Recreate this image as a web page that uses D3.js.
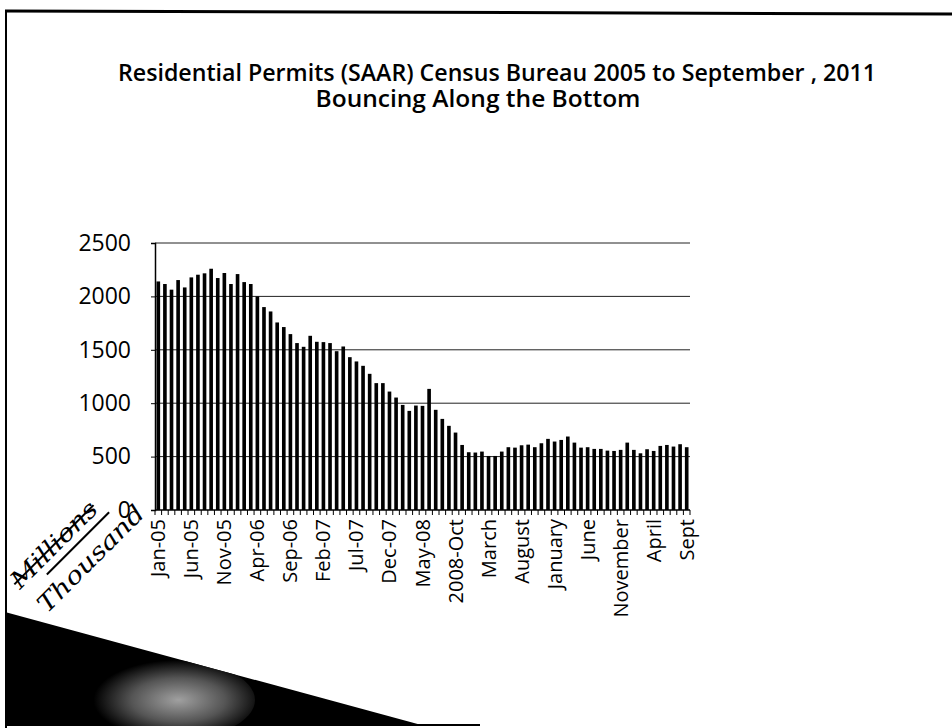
<!DOCTYPE html>
<html><head><meta charset="utf-8">
<script src="https://cdn.jsdelivr.net/npm/d3@7"></script>
<style>html,body{margin:0;padding:0;background:#fff;}svg{display:block;}</style>
</head><body>
<svg id="chart" width="952" height="728"></svg>
<script>
const titleLines = ["Residential Permits (SAAR) Census Bureau 2005 to September , 2011", "Bouncing Along the Bottom"];
const values = [2140,2116,2063,2153,2084,2178,2203,2216,2259,2172,2219,2116,2209,2134,2116,2000,1900,1859,1756,1713,1647,1563,1528,1631,1575,1572,1563,1487,1531,1431,1391,1350,1275,1188,1188,1109,1053,984,928,978,975,1134,938,853,788,725,609,541,538,547,506,506,547,588,584,606,612,588,625,666,641,656,688,631,584,588,572,572,556,553,563,631,563,531,569,553,600,609,594,616,588];
const labelIndex = [0,5,10,15,20,25,30,35,40,45,50,55,60,65,70,75,80];
const tickLabels = ["Jan-05","Jun-05","Nov-05","Apr-06","Sep-06","Feb-07","Jul-07","Dec-07","May-08","2008-Oct","March","August","January","June","November","April","Sept"];
const yTicks = [0,500,1000,1500,2000,2500];

const svg = d3.select("#chart");
const font = "'Open Sans', sans-serif";

// slide frame
svg.append("line").attr("x1",5).attr("y1",11).attr("x2",952).attr("y2",14).attr("stroke","#000").attr("stroke-width",3);
svg.append("line").attr("x1",6).attr("y1",11).attr("x2",6).attr("y2",728).attr("stroke","#000").attr("stroke-width",2);
svg.append("line").attr("x1",5).attr("y1",725).attr("x2",480).attr("y2",725).attr("stroke","#000").attr("stroke-width",2);
// decorative wedge bottom-left
const defs = svg.append("defs");
const grad = defs.append("radialGradient").attr("id","g1").attr("cx","0.55").attr("cy","0.5").attr("r","0.5");
grad.append("stop").attr("offset","0").attr("stop-color","#a0a0a0");
grad.append("stop").attr("offset","0.55").attr("stop-color","#555");
grad.append("stop").attr("offset","1").attr("stop-color","#000");
defs.append("clipPath").attr("id","wedge").append("polygon").attr("points","5,612 425,726 5,726");
svg.append("polygon").attr("points","5,612 425,726 5,726").attr("fill","#000");
svg.append("ellipse").attr("cx",170).attr("cy",700).attr("rx",85).attr("ry",40).attr("fill","url(#g1)").attr("clip-path","url(#wedge)");

// titles
svg.append("text").attr("x",497).attr("y",81).attr("text-anchor","middle").attr("font-family",font).attr("font-weight",600).attr("font-size",23)
  .attr("textLength",758).attr("lengthAdjust","spacingAndGlyphs").text(titleLines[0]);
svg.append("text").attr("x",478).attr("y",107).attr("text-anchor","middle").attr("font-family",font).attr("font-weight",600).attr("font-size",23)
  .attr("textLength",325).attr("lengthAdjust","spacingAndGlyphs").text(titleLines[1]);

const x = d3.scaleBand().domain(d3.range(values.length)).range([155,690]).paddingInner(0.45).paddingOuter(0.225);
const y = d3.scaleLinear().domain([0,2500]).range([510,243]);

// gridlines
svg.append("g").selectAll("line").data(yTicks.filter(d=>d>0)).join("line")
  .attr("x1",155).attr("x2",690).attr("y1",d=>y(d)).attr("y2",d=>y(d)).attr("stroke","#222").attr("stroke-width",1);

// bars
svg.append("g").selectAll("rect").data(values).join("rect")
  .attr("x",(d,i)=>x(i)).attr("width",x.bandwidth()).attr("y",d=>y(d)).attr("height",d=>y(0)-y(d)).attr("fill","#000");

// y axis
const yAxis = d3.axisLeft(y).tickValues(yTicks).tickSize(4).tickPadding(20).tickFormat(d3.format("d"));
const ya = svg.append("g").attr("transform","translate(155,0)").call(yAxis);
ya.select(".domain").attr("stroke","#000").attr("stroke-width",1.5);
ya.selectAll("text").attr("font-family",font).attr("font-size",23).attr("fill","#000");

// x axis
const xb = d3.scaleLinear().domain([0,values.length]).range([155,690]);
const xa = svg.append("g").attr("transform","translate(0,510)");
xa.append("line").attr("x1",155).attr("x2",690).attr("stroke","#000").attr("stroke-width",1.5);
xa.selectAll("line.tk").data(d3.range(values.length+1)).join("line").attr("class","tk")
  .attr("x1",d=>xb(d)).attr("x2",d=>xb(d)).attr("y1",0).attr("y2",5).attr("stroke","#000");
xa.selectAll("text").data(labelIndex).join("text")
  .attr("transform",(d)=>`translate(${x(d)+x.bandwidth()/2+7},9) rotate(-90)`)
  .attr("text-anchor","end").attr("font-family",font).attr("font-size",20).attr("fill","#000")
  .text((d,i)=>tickLabels[i]);

// handwritten annotation
const hw = svg.append("g").attr("font-family","'DejaVu Serif', serif").attr("font-style","italic").attr("fill","#000");
const m = hw.append("g").attr("transform","translate(20,590) rotate(-45)");
m.append("text").attr("font-size",24).attr("textLength",112).attr("lengthAdjust","spacingAndGlyphs").text("Millions");
m.append("line").attr("x1",0).attr("x2",112).attr("y1",-8).attr("y2",-8).attr("stroke","#000").attr("stroke-width",2);
m.append("line").attr("x1",30).attr("x2",118).attr("y1",8).attr("y2",8).attr("stroke","#000").attr("stroke-width",2);
const t = hw.append("g").attr("transform","translate(47,614) rotate(-45)");
t.append("text").attr("font-size",24).attr("textLength",140).attr("lengthAdjust","spacingAndGlyphs").text("Thousand");
</script>
</body></html>
